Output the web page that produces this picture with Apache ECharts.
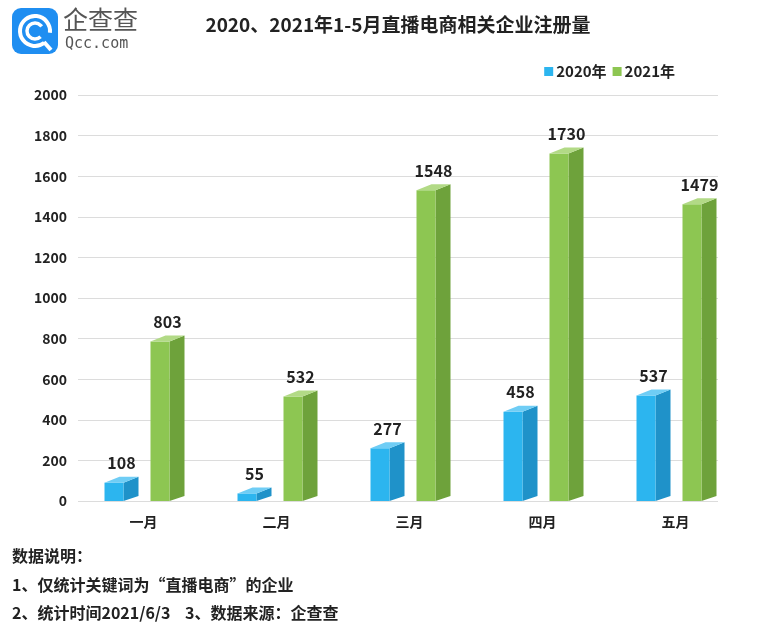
<!DOCTYPE html>
<html><head><meta charset="utf-8">
<script src="https://cdn.jsdelivr.net/npm/echarts@6/dist/echarts.min.js"></script>
<style>html,body{margin:0;padding:0;background:#fff}#c{width:760px;height:633px}</style>
</head><body><div id="c"></div>
<script>
const categories = ['一月','二月','三月','四月','五月'];
const values2020 = [108, 55, 277, 458, 537];
const values2021 = [803, 532, 1548, 1730, 1479];
const seriesNames = ['2020年','2021年'];
const yTicks = {min: 0, max: 2000, interval: 200};
const titleText = '2020、2021年1-5月直播电商相关企业注册量';
const notes = ['数据说明：','1、仅统计关键词为“直播电商”的企业','2、统计时间2021/6/3    3、数据来源：企查查'];

const FONT = '"Noto Sans CJK SC", "Noto Sans", sans-serif';
const palettes = [
  {front:'#2cb5ef', side:'#1f92c9', top:'#6fcdf5'},
  {front:'#8dc652', side:'#6ea23b', top:'#b2da86'}
];
const offsets = [-39, 7];
const FW = 19, DEPTH = 15, DY = 6;

function makeRender(k){
  return function(params, api){
    const p = api.coord([api.value(0), api.value(1)]);
    const base = api.coord([api.value(0), 0]);
    const xl = p[0] + offsets[k], xr = xl + FW;
    const yTop = p[1] + DY*0.6, y0 = base[1];
    const c = palettes[k];
    return {type:'group', children:[
      {type:'polygon', shape:{points:[[xr,yTop],[xr+DEPTH,yTop-DY],[xr+DEPTH,y0-DY+1],[xr,y0]]}, style:{fill:c.side}},
      {type:'rect', shape:{x:xl, y:yTop, width:FW, height:y0-yTop}, style:{fill:c.front}},
      {type:'polygon', shape:{points:[[xl,yTop],[xl+DEPTH,yTop-DY],[xr+DEPTH,yTop-DY],[xr,yTop]]}, style:{fill:c.top}},
      {type:'text', x:(xl+xr+DEPTH)/2, y:p[1]-8, style:{text:String(api.value(1)), fill:'#222', font:'bold 16px '+FONT, textAlign:'center', textVerticalAlign:'bottom'}}
    ]};
  };
}

const chart = echarts.init(document.getElementById('c'), null, {renderer:'canvas'});
chart.setOption({
  backgroundColor:'#fff',
  animation:false,
  title:{text:titleText, left:393, textAlign:'center', top:10, textStyle:{fontFamily:FONT, fontSize:19, fontWeight:'bold', color:'#222'}},
  legend:{right:80, top:59, itemWidth:9, itemHeight:9, itemGap:6, icon:'rect',
    textStyle:{fontFamily:FONT, fontSize:15, fontWeight:'bold', color:'#222', padding:[0,0,0,-2]},
    data:[{name:seriesNames[0], itemStyle:{color:palettes[0].front}},{name:seriesNames[1], itemStyle:{color:palettes[1].front}}]},
  grid:[
    {left:78, right:42, top:95, bottom:132},
    {left:77, right:18, top:95, bottom:132}
  ],
  xAxis:[
    {gridIndex:0, type:'category', data:categories, show:false},
    {gridIndex:1, type:'category', data:categories, axisLine:{show:false}, axisTick:{show:false},
      axisLabel:{margin:14, fontFamily:FONT, fontSize:14, fontWeight:'bold', color:'#222'}}
  ],
  yAxis:[
    {gridIndex:0, type:'value', min:yTicks.min, max:yTicks.max, interval:yTicks.interval,
      axisLine:{show:false}, axisTick:{show:false},
      axisLabel:{margin:11, fontFamily:FONT, fontSize:14, fontWeight:'bold', color:'#222', formatter:v=>String(v)},
      splitLine:{lineStyle:{color:'#dcdcdc', width:1}}},
    {gridIndex:1, type:'value', min:yTicks.min, max:yTicks.max, show:false, splitLine:{show:false}}
  ],
  series:[0,1].map(k => ({
    name:seriesNames[k], type:'custom', xAxisIndex:1, yAxisIndex:1,
    itemStyle:{color:palettes[k].front},
    renderItem:makeRender(k),
    data:(k===0?values2020:values2021).map((v,i)=>[i,v])
  })),
  graphic:[
    {type:'rect', left:12, top:8, shape:{width:46, height:46, r:9}, style:{fill:'#1f8ef1'}},
    {type:'arc', shape:{cx:35, cy:31, r:15, startAngle:0.9, endAngle:0.9+Math.PI*1.75}, style:{stroke:'#fff', lineWidth:4, fill:null}},
    {type:'arc', shape:{cx:35, cy:31, r:8, startAngle:0.8, endAngle:0.8+Math.PI*1.55}, style:{stroke:'#fff', lineWidth:3.5, fill:null}},
    {type:'line', shape:{x1:44, y1:42, x2:51, y2:50}, style:{stroke:'#fff', lineWidth:4}},
    {type:'text', left:63, top:7, style:{text:'企查查', fill:'#555', font:'25px '+FONT}},
    {type:'text', left:65, top:37, style:{text:'Qcc.com', fill:'#555', font:'15px "DejaVu Sans Mono", monospace'}},
    {type:'text', left:12, top:548, style:{text:notes[0], fill:'#222', font:'bold 16px '+FONT}},
    {type:'text', left:12, top:577, style:{text:notes[1], fill:'#222', font:'bold 16px '+FONT}},
    {type:'text', left:12, top:605, style:{text:notes[2], fill:'#222', font:'bold 16px '+FONT}}
  ]
});
</script></body></html>
